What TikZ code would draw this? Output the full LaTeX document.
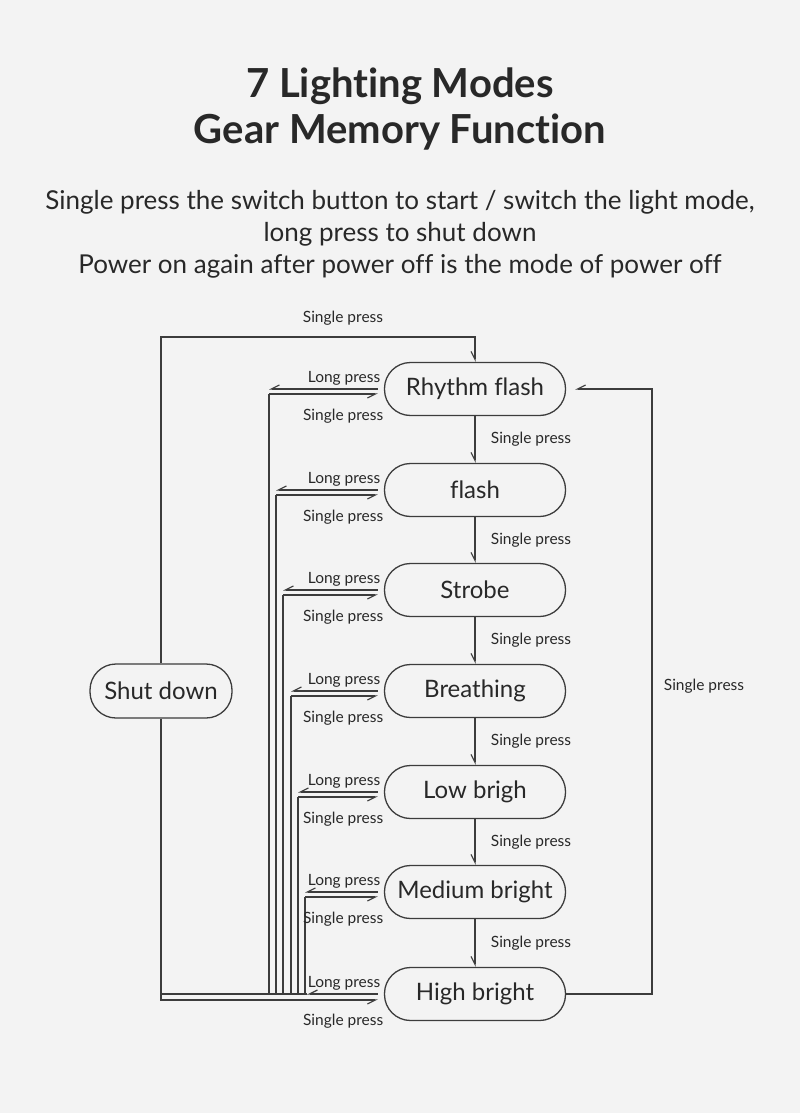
\documentclass[tikz,border=0pt]{standalone}
\usepackage{fontspec}
\setmainfont{Lato}[Ligatures={NoCommon}]
\usetikzlibrary{arrows.meta}
\definecolor{bgcol}{RGB}{243,243,243}
\definecolor{ink}{RGB}{40,40,40}
\definecolor{wire}{RGB}{60,60,60}
\begin{document}
\begin{tikzpicture}[x=1pt, y=-1pt, font=\fontsize{15.5}{18}\selectfont, text=ink,
  hp/.style={-{Straight Barb[harpoon,swap,length=8pt,width=8pt]}},
  wire/.style={draw=wire, line width=1.15pt},
  mode/.style={draw=wire, line width=1.3pt, rounded corners=26pt,
    minimum width=181pt, minimum height=53pt, font=\fontsize{24}{28}\selectfont},
  lbl/.style={font=\fontsize{15.5}{18}\selectfont}]
  \fill[bgcol] (0,0) rectangle (800,1113);
  \useasboundingbox (0,0) rectangle (800,1113);
  % heading
  \node[font=\bfseries\fontsize{40}{44}\selectfont] (title1) at (400,86) {7 Lighting Modes};
  \node[font=\bfseries\fontsize{40}{44}\selectfont] (title2) at (400,132) {Gear Memory Function};
  \node[font=\fontsize{26}{30}\selectfont] (line1) at (400,202) {Single press the switch button to start / switch the light mode,};
  \node[font=\fontsize{26}{30}\selectfont] (line2) at (400,234) {long press to shut down};
  \node[font=\fontsize{26}{30}\selectfont] (line3) at (400,266) {Power on again after power off is the mode of power off};
  % modes
  \foreach \n/\t/\y in {rhythm/Rhythm flash/389, flash/flash/490, strobe/Strobe/590,
      breathing/Breathing/691, low/Low brigh/792, medium/Medium bright/892, high/High bright/994}
    \node[mode] (\n) at (475,\y) {\t};
  \node[mode, minimum width=142pt, minimum height=54pt] (shut) at (161,691) {Shut down};
  % single press downwards
  \foreach \a/\b in {rhythm/flash, flash/strobe, strobe/breathing, breathing/low, low/medium, medium/high} {
    \draw[wire, hp] (\a.south) -- (\b.north) node[lbl, midway, right=12pt] {Single press};
  }
  % long press / single press to shut down
  \foreach \n/\x in {rhythm/269, flash/276, strobe/283, breathing/291, low/298, medium/305} {
    \coordinate (\n-bus) at (\x,0);
    \draw[wire, hp, shorten <=6pt] (\n.west) -- (\n.west -| \n-bus);
    \draw[wire, hp, shorten >=6pt] ([yshift=-5pt]\n.west -| \n-bus) -- ([yshift=-5pt]\n.west);
    \draw[wire] ([yshift=-5pt]\n.west -| \n-bus) -- (\n-bus |- high.west);
    \node[lbl, anchor=base east] at ([xshift=0pt, yshift=7pt]\n.west) {Long press};
    \node[lbl, anchor=base east] at ([xshift=3pt, yshift=-31pt]\n.west) {Single press};
  }
  \coordinate (shut-bus) at (shut.south |- high.west);
  \coordinate (high-tip) at (307,994);
  \draw[wire, hp, shorten <=6pt] (high.west) -- (high-tip);
  \draw[wire] (high-tip) -- (shut-bus);
  \draw[wire, hp, shorten >=6pt] (shut.south) |- ([yshift=-6pt]high.west);
  \node[lbl, anchor=base east] at ([xshift=0pt, yshift=7pt]high.west) {Long press};
  \node[lbl, anchor=base east] at ([xshift=3pt, yshift=-31pt]high.west) {Single press};
  % loops
  \coordinate (top-bend) at (161,337);
  \draw[wire, hp] (shut.north) -- (top-bend) -| (rhythm.north);
  \node[lbl] at (343,318) {Single press};
  \coordinate (right-bend) at (652,994);
  \draw[wire, hp, shorten >=9pt] (high.east) -- (right-bend) |- (rhythm.east);
  \node[lbl] at (704,686) {Single press};
\end{tikzpicture}
\end{document}
